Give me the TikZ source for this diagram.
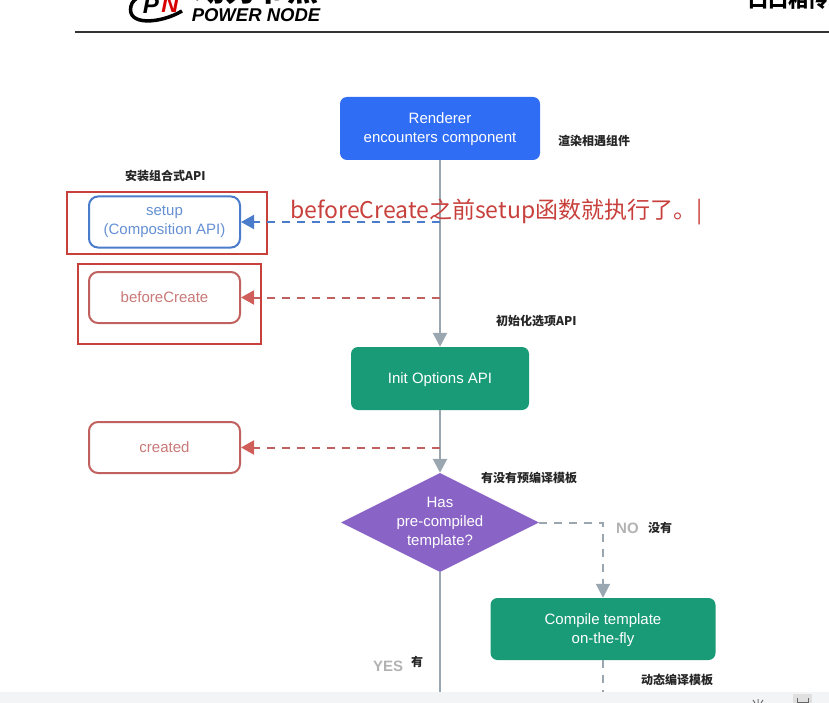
\documentclass[tikz,border=0pt]{standalone}
\usepackage{fontspec}
\setmainfont{Liberation Sans}
\newfontfamily\cjk{Noto Sans CJK SC}
\usetikzlibrary{shapes.geometric, positioning, arrows.meta, calc}
\definecolor{rendererblue}{HTML}{2F6DF5}
\definecolor{initgreen}{HTML}{1A9B78}
\definecolor{hasviolet}{HTML}{8A63C6}
\definecolor{hookred}{HTML}{C0615F}
\definecolor{framered}{HTML}{C8403C}
\definecolor{setupblue}{HTML}{4A7CCB}
\definecolor{flowgray}{HTML}{9BA7B0}
\definecolor{barpaper}{HTML}{F3F4F5}
\tikzset{
    flowbox/.style={rectangle, rounded corners=7pt, text=white, align=center, font=\fontsize{15}{19}\selectfont, inner sep=0, text depth=1pt},
    hookbox/.style={rectangle, rounded corners=9pt, draw=hookred, line width=2pt, fill=white, text=hookred!85!white, align=center, font=\fontsize{15}{19}\selectfont, minimum width=151pt, minimum height=51pt, inner sep=0},
    redframe/.style={draw=framered, line width=1.3pt},
    note/.style={font=\cjk\bfseries\fontsize{12}{14}\selectfont, text=black!85, inner sep=0},
    answer/.style={font=\bfseries\fontsize{15}{17}\selectfont, text=black!30, inner sep=0},
    mainflow/.style={draw=flowgray, line width=2.6pt, -{Triangle[length=14pt,width=14pt]}},
    hookflow/.style={draw=hookred, line width=2pt, dash pattern=on 8pt off 7pt, -{Triangle[length=13pt,width=14pt,color=framered!85!white]}},
}
\begin{document}
\begin{tikzpicture}[x=1pt, y=-1pt]
    \useasboundingbox (0,0) rectangle (829,703);
    \clip (0,0) rectangle (829,703);

    % header
    \draw[line width=1.6pt, black!80] (75,32) -- (829,32);
    \draw[line width=3.5pt, black] (182,11) .. controls (160,24) and (126,26) .. (131,6) .. controls (132,2) and (135,-1) .. (139,-3);
    \node[font=\bfseries\itshape\fontsize{24}{24}\selectfont, inner sep=0] (logoP) at (151,5) {P};
    \node[font=\bfseries\itshape\fontsize{24}{24}\selectfont, text=red!85!black, inner sep=0] (logoN) at (170,4) {N};
    \node[font=\bfseries\itshape\fontsize{18.5}{18.5}\selectfont, inner sep=0] (brand) at (256,15.5) {POWER NODE};
    \node[font=\cjk\bfseries\fontsize{31}{31}\selectfont, inner sep=0] (brandcn) at (256,-10) {动力节点};
    \node[font=\cjk\bfseries\fontsize{20}{20}\selectfont, inner sep=0, anchor=west] (slogan) at (748,0) {口口相传};

    % flow
    \node[flowbox, fill=rendererblue, minimum width=200pt, minimum height=63pt] (Renderer) at (440,128.5) {Renderer\\encounters component};
    \node[flowbox, fill=initgreen, minimum width=178pt, minimum height=63pt] (Init) at (440,378.5) {Init Options API};
    \node[diamond, aspect=2, fill=hasviolet, text=white, align=center, inner sep=0, minimum width=198pt, minimum height=99pt, font=\fontsize{15}{19}\selectfont] (Has) at (440,522.5) {Has\\pre-compiled\\template?};
    \node[flowbox, fill=initgreen, minimum width=225pt, minimum height=62pt] (Compile) at (603,629) {Compile template\\on-the-fly};

    \node[hookbox, draw=setupblue, text=setupblue!85!white] (setup) at (164.5,222) {setup\\(Composition API)};
    \node[hookbox] (beforeCreate) at (164.5,297.5) {beforeCreate};
    \node[hookbox] (created) at (164.5,447.5) {created};

    \draw[redframe] (67,192) rectangle (267,254);
    \draw[redframe] (78,264) rectangle (261,344);

    \coordinate (setupTap) at (Renderer.south |- setup.east);
    \coordinate (beforeTap) at (Renderer.south |- beforeCreate.east);
    \coordinate (createdTap) at (Init.south |- created.east);
    \coordinate (yesEnd) at (440,695);
    \coordinate (noBend) at (Compile.north |- Has.east);
    \coordinate (compileEnd) at (603,695);

    \draw[mainflow] (Renderer) -- (Init);
    \draw[mainflow] (Init) -- (Has);
    \draw[draw=flowgray, line width=2.6pt] (Has) -- (yesEnd);
    \draw[hookflow, draw=setupblue, -{Triangle[length=13pt,width=14pt,color=setupblue]}] (setupTap) -- (setup);
    \draw[hookflow] (beforeTap) -- (beforeCreate);
    \draw[hookflow] (createdTap) -- (created);
    \draw[mainflow, line width=2pt, dash pattern=on 8pt off 7pt] (Has) -- (noBend) -- (Compile);
    \draw[draw=flowgray, line width=2pt, dash pattern=on 8pt off 7pt] (Compile) -- (compileEnd);

    % labels
    \node[font=\cjk\fontsize{23}{26}\selectfont, text=framered, inner sep=0, anchor=west] (remark) at (290,212) {beforeCreate之前setup函数就执行了。|};
    \node[note, anchor=west] (renderNote) at (558,141) {渲染相遇组件};
    \node[note, anchor=west] (setupNote) at (125,176) {安装组合式API};
    \node[note, anchor=west] (initNote) at (496,321) {初始化选项API};
    \node[note, anchor=west] (hasNote) at (481,478) {有没有预编译模板};
    \node[note, anchor=west] (noNote) at (648,528) {没有};
    \node[note, anchor=west] (yesNote) at (411,662) {有};
    \node[note, anchor=west] (compileNote) at (641,680) {动态编译模板};
    \node[answer, anchor=west] (noMark) at (616,528) {NO};
    \node[answer, anchor=west] (yesMark) at (373,666) {YES};

    % bottom bar
    \fill[barpaper] (0,692) rectangle (829,703);
    \draw[black!55, line width=1pt] (753,700) -- (755,703) (758,699) -- (758,703) (763,700) -- (761,703);
    \fill[black!12] (793,694) rectangle (812,703);
    \draw[black!60, line width=1pt] (797,698) -- (797,703) (808,698) -- (808,703) (797,702) -- (808,702);
\end{tikzpicture}
\end{document}
